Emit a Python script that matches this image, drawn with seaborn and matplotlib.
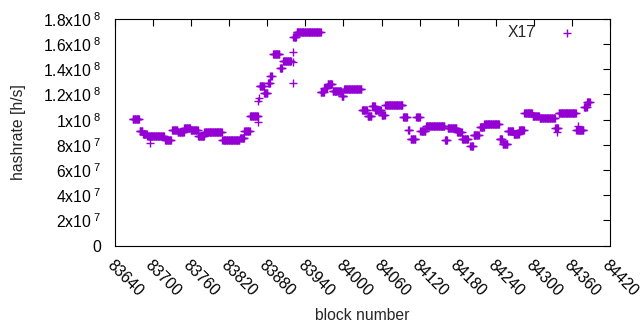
import numpy as np
import pandas as pd
import matplotlib
matplotlib.use("Agg")
import matplotlib.pyplot as plt
import seaborn as sns

# ---- data (hashrate in h/s, per block) ----
seg_start = [83668, 83679, 83684, 83691, 83719, 83730, 83739, 83749, 83759, 83771,
             83781, 83809, 83837, 83844, 83853, 83868, 83875, 83881, 83885, 83889,
             83900, 83905, 83921, 83926, 83964, 83970, 83975, 83983, 83997, 84001,
             84029, 84038, 84045, 84050, 84060, 84066, 84094, 84102, 84106, 84115,
             84121, 84130, 84140, 84160, 84164, 84179, 84187, 84200, 84205, 84215,
             84222, 84246, 84251, 84259, 84268, 84277, 84285, 84298, 84309, 84334,
             84339, 84367, 84379, 84384]
seg_end = [83678, 83683, 83690, 83717, 83728, 83738, 83748, 83758, 83770, 83780,
           83808, 83836, 83843, 83852, 83865, 83874, 83880, 83884, 83887, 83899,
           83903, 83917, 83925, 83964, 83969, 83974, 83982, 83996, 84000, 84028,
           84037, 84044, 84049, 84059, 84065, 84093, 84100, 84104, 84113, 84120,
           84129, 84139, 84159, 84163, 84178, 84186, 84196, 84204, 84213, 84221,
           84245, 84250, 84258, 84267, 84276, 84284, 84297, 84308, 84333, 84338,
           84366, 84378, 84383, 84388]
seg_value = [1.005e8, 0.91e8, 0.89e8, 0.87e8, 0.84e8, 0.92e8, 0.90e8, 0.935e8, 0.92e8, 0.87e8,
             0.90e8, 0.84e8, 0.855e8, 0.91e8, 1.03e8, 1.27e8, 1.21e8, 1.29e8, 1.35e8, 1.52e8,
             1.41e8, 1.47e8, 1.66e8, 1.695e8, 1.22e8, 1.25e8, 1.28e8, 1.23e8, 1.19e8, 1.24e8,
             1.08e8, 1.03e8, 1.11e8, 1.08e8, 1.04e8, 1.12e8, 1.02e8, 0.92e8, 0.85e8, 1.02e8,
             0.91e8, 0.95e8, 0.95e8, 0.84e8, 0.93e8, 0.90e8, 0.85e8, 0.79e8, 0.88e8, 0.94e8,
             0.965e8, 0.85e8, 0.81e8, 0.91e8, 0.89e8, 0.92e8, 1.05e8, 1.03e8, 1.01e8, 0.93e8,
             1.05e8, 0.92e8, 1.10e8, 1.14e8]
extra_block = [83695, 83865, 83866, 83867, 83920, 83920, 83920, 84336, 84370]
extra_value = [0.815e8, 0.98e8, 1.15e8, 1.17e8, 1.54e8, 1.46e8, 1.29e8, 0.90e8, 0.95e8]

x_ticks = list(range(83640, 84421, 60))
y_ticks = [0, 2e7, 4e7, 6e7, 8e7, 1e8, 1.2e8, 1.4e8, 1.6e8, 1.8e8]
y_tick_labels = ["0", r"2x10$^{\mathregular{\ 7}}$", r"4x10$^{\mathregular{\ 7}}$",
                 r"6x10$^{\mathregular{\ 7}}$", r"8x10$^{\mathregular{\ 7}}$",
                 r"1x10$^{\mathregular{\ 8}}$", r"1.2x10$^{\mathregular{\ 8}}$",
                 r"1.4x10$^{\mathregular{\ 8}}$", r"1.6x10$^{\mathregular{\ 8}}$",
                 r"1.8x10$^{\mathregular{\ 8}}$"]
series_name = "X17"

blocks, values = [], []
for s, e, v in zip(seg_start, seg_end, seg_value):
    b = list(range(s, e + 1))
    blocks += b
    values += [v] * len(b)
blocks += extra_block
values += extra_value
df = pd.DataFrame({"block": blocks, "hashrate": values})

sns.set_style("white")
plt.rcParams["font.family"] = ["Liberation Sans", "DejaVu Sans"]
plt.rcParams["mathtext.fontset"] = "custom"
plt.rcParams["mathtext.rm"] = "Liberation Sans"
plt.rcParams["mathtext.it"] = "Liberation Sans:italic"
plt.rcParams["mathtext.bf"] = "Liberation Sans:bold"

FS = 11.3
fig = plt.figure(figsize=(6.4, 3.3), dpi=100)
ax = fig.add_axes([115 / 640, (330 - 245.5) / 330, (610 - 115) / 640, (245.5 - 19) / 330])

sns.scatterplot(data=df, x="block", y="hashrate", marker="+", s=30,
                color="#9400d3", linewidth=1.0, ax=ax, label=series_name, legend=False)

ax.set_xlim(83640, 84420)
ax.set_ylim(0, 1.8e8)
ax.set_xticks(x_ticks)
ax.set_xticklabels([str(t) for t in x_ticks], rotation=-45, ha="left", va="top",
                   rotation_mode="anchor", fontsize=FS)
ax.set_yticks(y_ticks)
ax.set_yticklabels(y_tick_labels, fontsize=FS)
ax.tick_params(axis="both", direction="in", length=5, width=0.8, color="black",
               top=True, right=True, labelcolor="black")
ax.tick_params(axis="x", pad=9)
ax.tick_params(axis="y", pad=10)
for sp in ax.spines.values():
    sp.set_visible(True)
    sp.set_color("black")
    sp.set_linewidth(0.8)

ax.set_xlabel("block number", fontsize=FS, labelpad=6)
ax.set_ylabel("hashrate [h/s]", fontsize=FS, labelpad=12)

ax.legend(loc="upper right", bbox_to_anchor=((575 - 115) / 495, 0.972),
          frameon=False, markerfirst=False, fontsize=FS, handlelength=1.0,
          handletextpad=1.5, borderpad=0, borderaxespad=0)

fig.savefig("out.png", dpi=100)
